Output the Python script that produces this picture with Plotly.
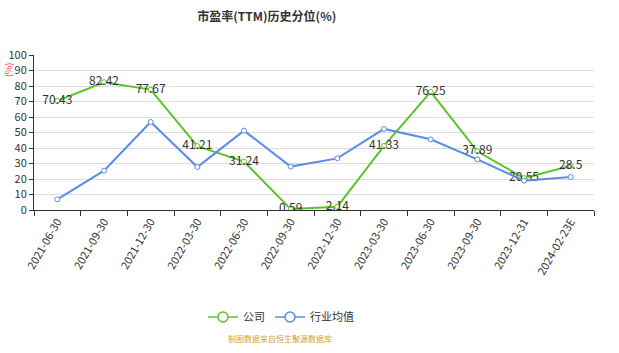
import plotly.graph_objects as go

categories = ["2021-06-30", "2021-09-30", "2021-12-30", "2022-03-30", "2022-06-30",
              "2022-09-30", "2022-12-30", "2023-03-30", "2023-06-30", "2023-09-30",
              "2023-12-31", "2024-02-23E"]
company = [70.43, 82.42, 77.67, 41.21, 31.24, 0.59, 2.14, 41.33, 76.25, 37.89, 20.55, 28.5]
industry = [6.9, 25.4, 56.8, 27.7, 51.2, 28.0, 33.3, 52.3, 45.6, 32.7, 18.9, 21.3]
y_ticks = [0, 10, 20, 30, 40, 50, 60, 70, 80, 90, 100]

green = "rgb(91,196,42)"
blue = "rgb(92,140,229)"
font = "Noto Sans CJK SC, Noto Sans, sans-serif"

fig = go.Figure()
fig.add_trace(go.Scatter(
    x=categories, y=company, name="公司", mode="lines+markers+text", showlegend=False,
    line=dict(color=green, width=2),
    marker=dict(symbol="circle", size=5, color="white", line=dict(color=green, width=1)),
    text=[f"{v:g}" for v in company], textposition="middle center",
    textfont=dict(size=12, color="#333333", family=font),
))
fig.add_trace(go.Scatter(
    x=categories, y=industry, name="行业均值", mode="lines+markers", showlegend=False,
    line=dict(color=blue, width=2),
    marker=dict(symbol="circle", size=5, color="white", line=dict(color=blue, width=1)),
))
# legend entries (ECharts-style larger symbols)
for nm, col in (("公司", green), ("行业均值", blue)):
    fig.add_trace(go.Scatter(
        x=[None], y=[None], name=nm, mode="lines+markers",
        line=dict(color=col, width=1.5),
        marker=dict(symbol="circle", size=10, color="white", line=dict(color=col, width=1.5)),
    ))

plot_w = 619 - 34 - 25
plot_h = 353 - 55 - 143

fig.update_layout(
    width=619, height=353,
    margin=dict(l=34, r=25, t=55, b=143, autoexpand=False),
    paper_bgcolor="white", plot_bgcolor="white",
    font=dict(family=font, color="#333333", size=11),
    title=dict(text="<b>市盈率(TTM)历史分位(%)</b>", x=0.431, xanchor="center", y=0.965,
               font=dict(size=12, color="#333333", family=font)),
    showlegend=True,
    legend=dict(orientation="h", x=(281 - 34) / plot_w, xanchor="center",
                y=(210 - 317) / plot_h, yanchor="middle",
                font=dict(size=11, color="#333333"), itemwidth=30, tracegroupgap=0),
    xaxis=dict(type="category", tickangle=-60, tickson="boundaries", ticks="outside",
               ticklen=5, tickcolor="#333333", showline=True, linecolor="#333333",
               showgrid=False, tickfont=dict(size=11, color="#333333"),
               range=[-0.5, 11.5], automargin=False),
    yaxis=dict(range=[0, 100], tickvals=y_ticks, showline=True, linecolor="#333333",
               ticks="outside", ticklen=4, tickcolor="#333333", gridcolor="#dddddd",
               zeroline=False, tickfont=dict(size=11, color="#333333"), automargin=False),
    annotations=[
        dict(text="(%)", textangle=-90, x=(8 - 34) / plot_w, y=(210 - 70) / plot_h,
             xref="paper", yref="paper", xanchor="center", yanchor="middle",
             showarrow=False, font=dict(size=9, color="#ee4444")),
        dict(text="制图数据来自恒生聚源数据库", x=(280 - 34) / plot_w, y=(210 - 338) / plot_h,
             xref="paper", yref="paper", xanchor="center", yanchor="middle",
             showarrow=False, font=dict(size=8, color="#d4a040")),
    ],
)

fig.write_html("out.html")
